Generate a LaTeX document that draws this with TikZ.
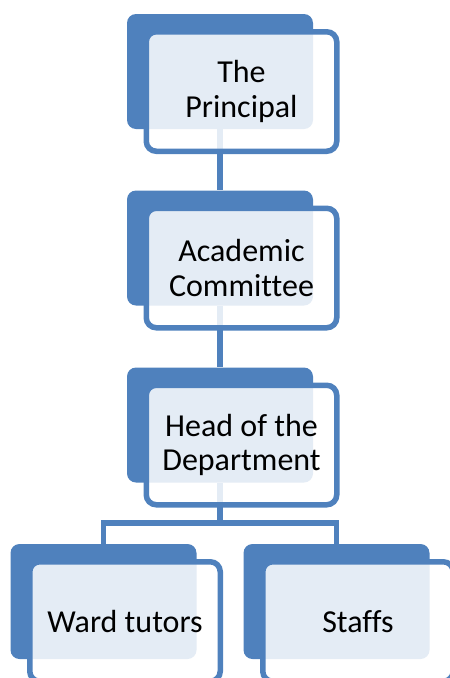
\documentclass[tikz,border=0pt]{standalone}
\usepackage{fontspec}
\setmainfont[Ligatures=NoCommon]{Carlito}
\usetikzlibrary{backgrounds}
\definecolor{ob}{HTML}{4F81BD}
\begin{document}
\begin{tikzpicture}[x=1pt,y=-1pt,
  backbox/.style={rectangle, rounded corners=9pt, fill=ob, minimum width=186pt, minimum height=115pt, inner sep=0pt},
  frontbox/.style={rectangle, rounded corners=10pt, draw=ob, line width=5.5pt, fill=white, fill opacity=0.85, text opacity=1, minimum width=190.5pt, minimum height=119.5pt, align=center, font=\fontsize{32}{34.5}\selectfont, inner sep=0pt},
  conn/.style={draw=ob, line width=5.5pt}]
\useasboundingbox (0,0) rectangle (450,678);
\clip (0,0) rectangle (450,678);
% boxes
\node[backbox] (b1) at (220,71.5) {};
\node[frontbox] (f1) at (241.5,91.5) {The\\Principal};
\node[backbox] (b2) at (220,248) {};
\node[frontbox] (f2) at (241.5,268) {Academic\\Committee};
\node[backbox] (b3) at (220,425) {};
\node[frontbox] (f3) at (241.5,445) {Head of the\\Department};
\node[backbox] (b4) at (103.5,601.5) {};
\node[frontbox] (f4) at (125,621.5) {Ward tutors};
\node[backbox] (b5) at (336.5,601.5) {};
\node[frontbox] (f5) at (358,621.5) {Staffs};
\coordinate (j) at (220,523);
\begin{pgfonlayer}{background}
\draw[conn] (b1.south) -- (b2.north);
\draw[conn] (b2.south) -- (b3.north);
\draw[conn] (b3.south) -- (j);
\draw[conn] (j) -| (b4.north);
\draw[conn] (j) -| (b5.north);
\end{pgfonlayer}
\end{tikzpicture}
\end{document}
